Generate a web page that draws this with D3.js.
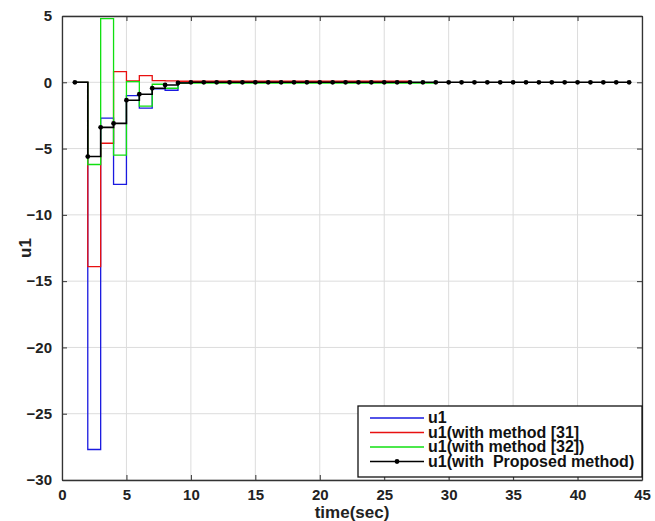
<!DOCTYPE html>
<html>
<head>
<meta charset="utf-8">
<script src="https://cdn.jsdelivr.net/npm/d3@7"></script>
<style>
  body { margin: 0; background: #fff; }
  svg text { font-family: "Liberation Sans", Arial, sans-serif; font-weight: bold; }
</style>
</head>
<body>
<svg width="655" height="521"></svg>
<script>
  // sample instants (sec)
  var tBlack = d3.range(1, 45);
  var uBlack = [0, -5.6, -3.4, -3.1, -1.35, -0.9, -0.45, -0.2, -0.05]
      .concat(d3.range(10, 45).map(function () { return 0; }));

  var tBlue = d3.range(1, 12);
  var uBlue = [0, -27.7, -2.7, -7.7, -1.0, -1.95, -0.5, -0.6, 0, 0, 0];

  var tRed = d3.range(1, 28);
  var uRed = [0, -13.9, -4.6, 0.8, 0.1, 0.5, 0.12, 0.1]
      .concat(d3.range(9, 28).map(function () { return 0.08; }));

  var tGreen = d3.range(1, 30);
  var uGreen = [0, -6.2, 4.8, -5.5, 0.05, -1.8, -0.15, -0.45]
      .concat(d3.range(9, 30).map(function () { return -0.07; }));

  var xTicks = d3.range(0, 46, 5);
  var yTicks = d3.range(-30, 6, 5);

  var series = [
    { name: "u1", t: tBlue, u: uBlue, color: "#1a1ae0", dots: false },
    { name: "u1(with method [31]", t: tRed, u: uRed, color: "#e81010", dots: false },
    { name: "u1(with method [32])", t: tGreen, u: uGreen, color: "#10e010", dots: false },
    { name: "u1(with  Proposed method)", t: tBlack, u: uBlack, color: "#000", dots: true }
  ];

  var pLeft = 62, pRight = 642, pTop = 16, pBottom = 480;
  var svg = d3.select("svg");

  var x = d3.scaleLinear().domain([0, 45]).range([pLeft, pRight]);
  var y = d3.scaleLinear().domain([-30, 5]).range([pBottom, pTop]);

  // grid
  svg.append("g").selectAll("line").data(xTicks).enter().append("line")
      .attr("x1", function (d) { return x(d); }).attr("x2", function (d) { return x(d); })
      .attr("y1", pTop).attr("y2", pBottom)
      .attr("stroke", "#dcdcdc").attr("stroke-width", 1);
  svg.append("g").selectAll("line").data(yTicks).enter().append("line")
      .attr("y1", function (d) { return y(d); }).attr("y2", function (d) { return y(d); })
      .attr("x1", pLeft).attr("x2", pRight)
      .attr("stroke", "#dcdcdc").attr("stroke-width", 1);

  // axes (ticks inward)
  var xAxis = svg.append("g").attr("transform", "translate(0," + pBottom + ")")
      .call(d3.axisBottom(x).tickValues(xTicks).tickSizeInner(-5).tickSizeOuter(0).tickPadding(9));
  var xAxisTop = svg.append("g").attr("transform", "translate(0," + pTop + ")")
      .call(d3.axisTop(x).tickValues(xTicks).tickSizeInner(-5).tickSizeOuter(0).tickFormat(""));
  var yAxis = svg.append("g").attr("transform", "translate(" + pLeft + ",0)")
      .call(d3.axisLeft(y).tickValues(yTicks).tickSizeInner(-5).tickSizeOuter(0).tickPadding(10));
  var yAxisRight = svg.append("g").attr("transform", "translate(" + pRight + ",0)")
      .call(d3.axisRight(y).tickValues(yTicks).tickSizeInner(-5).tickSizeOuter(0).tickFormat(""));

  [xAxis, xAxisTop, yAxis, yAxisRight].forEach(function (g) {
    g.select(".domain").attr("stroke", "#333").attr("stroke-width", 1.3);
    g.selectAll(".tick line").attr("stroke", "#333");
    g.selectAll(".tick text").attr("font-size", 15).attr("fill", "#222")
      .attr("font-family", "Liberation Sans, Arial, sans-serif").attr("font-weight", "bold");
  });

  // stairs
  var stairs = d3.line()
      .x(function (d) { return x(d[0]); })
      .y(function (d) { return y(d[1]); })
      .curve(d3.curveStepAfter);

  series.forEach(function (s) {
    var pts = s.t.map(function (t, i) { return [t, s.u[i]]; });
    svg.append("path")
        .attr("d", stairs(pts))
        .attr("fill", "none")
        .attr("stroke", s.color)
        .attr("stroke-width", s.dots ? 1.6 : 1.3);
    if (s.dots) {
      svg.append("g").selectAll("circle").data(pts).enter().append("circle")
          .attr("cx", function (d) { return x(d[0]); })
          .attr("cy", function (d) { return y(d[1]); })
          .attr("r", 2.4)
          .attr("fill", s.color);
    }
  });

  // labels
  svg.append("text")
      .attr("x", (pLeft + pRight) / 2).attr("y", 518)
      .attr("text-anchor", "middle").attr("font-size", 17).attr("fill", "#222")
      .text("time(sec)");
  svg.append("text")
      .attr("transform", "translate(31," + (pTop + pBottom) / 2 + ") rotate(-90)")
      .attr("text-anchor", "middle").attr("font-size", 17).attr("fill", "#222")
      .text("u1");

  // legend
  var lg = svg.append("g").attr("transform", "translate(358,406)");
  lg.append("rect").attr("width", 284).attr("height", 71)
      .attr("fill", "#fff").attr("stroke", "#111").attr("stroke-width", 1.3);
  series.forEach(function (s, i) {
    var ly = 12 + i * 14.5;
    lg.append("line").attr("x1", 12).attr("x2", 66).attr("y1", ly).attr("y2", ly)
        .attr("stroke", s.color).attr("stroke-width", 1.3);
    if (s.dots) {
      lg.append("circle").attr("cx", 39).attr("cy", ly).attr("r", 2.4).attr("fill", s.color);
    }
    lg.append("text").attr("x", 70).attr("y", ly + 5)
        .attr("font-size", 16).attr("fill", "#111")
        .attr("xml:space", "preserve")
        .text(s.name);
  });
</script>
</body>
</html>
